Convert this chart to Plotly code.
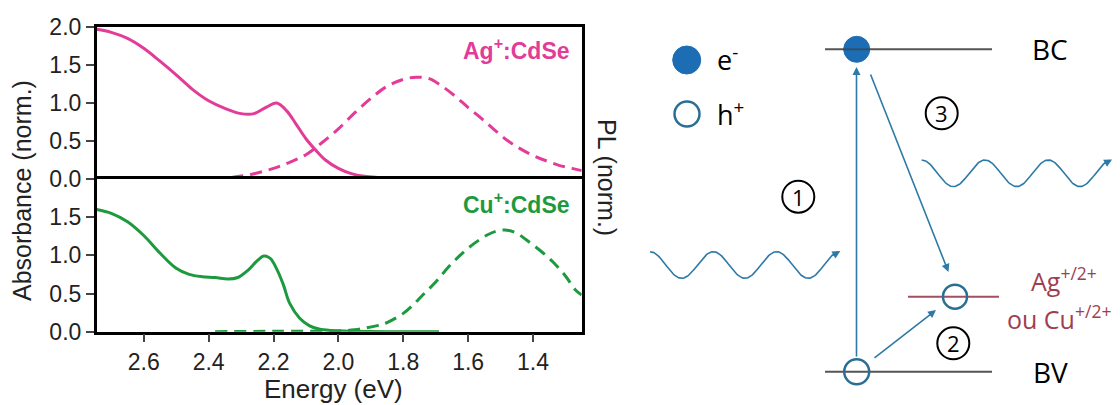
import numpy as np
import plotly.graph_objects as go

# window is 1120x405; page body has an 8px margin, so the figure is shifted by OFF
OFF = 8
W, H = 1120 - OFF, 405 - OFF

# ---------------- data ----------------
ag_abs_E = [2.745, 2.70, 2.65, 2.60, 2.55, 2.50, 2.45, 2.40, 2.35, 2.30, 2.26, 2.22, 2.19, 2.16,
            2.13, 2.10, 2.07, 2.04, 2.00, 1.96, 1.92, 1.88, 1.84, 1.80]
ag_abs_A = [1.97, 1.93, 1.85, 1.72, 1.55, 1.37, 1.18, 1.03, 0.93, 0.86, 0.86, 0.95, 1.00, 0.90,
            0.72, 0.53, 0.38, 0.25, 0.14, 0.07, 0.035, 0.02, 0.012, 0.01]

ag_pl_E = [2.33, 2.26, 2.20, 2.15, 2.10, 2.05, 2.00, 1.95, 1.90, 1.85, 1.80, 1.76, 1.72, 1.68,
           1.64, 1.60, 1.56, 1.52, 1.48, 1.44, 1.40, 1.36, 1.32, 1.28, 1.25]
ag_pl_I = [0.02, 0.07, 0.14, 0.22, 0.32, 0.48, 0.66, 0.87, 1.06, 1.22, 1.31, 1.34, 1.32, 1.22,
           1.09, 0.94, 0.80, 0.65, 0.51, 0.40, 0.31, 0.24, 0.18, 0.14, 0.11]

cu_abs_E = [2.745, 2.70, 2.65, 2.60, 2.55, 2.50, 2.46, 2.42, 2.38, 2.34, 2.31, 2.28, 2.25, 2.23,
            2.21, 2.19, 2.17, 2.15, 2.12, 2.09, 2.06, 2.02, 1.95, 1.85, 1.69]
cu_abs_A = [1.60, 1.55, 1.44, 1.26, 1.03, 0.83, 0.75, 0.72, 0.71, 0.69, 0.71, 0.80, 0.93, 0.99,
            0.96, 0.82, 0.62, 0.37, 0.18, 0.08, 0.035, 0.015, 0.005, 0.0, 0.0]

cu_pl_E = [2.38, 2.20, 2.00, 1.95, 1.92, 1.88, 1.85, 1.80, 1.77, 1.74, 1.70, 1.66, 1.62, 1.58,
           1.54, 1.51, 1.48, 1.45, 1.42, 1.38, 1.34, 1.30, 1.27, 1.25]
cu_pl_I = [0.0, 0.005, 0.01, 0.025, 0.045, 0.08, 0.12, 0.24, 0.35, 0.48, 0.65, 0.85, 1.02, 1.16,
           1.27, 1.32, 1.33, 1.29, 1.20, 1.07, 0.92, 0.73, 0.55, 0.48]

x_ticks = [2.6, 2.4, 2.2, 2.0, 1.8, 1.6, 1.4]
y_ticks_top = [0.0, 0.5, 1.0, 1.5, 2.0]
y_ticks_bot = [0.0, 0.5, 1.0, 1.5]

MAG = "#E23C98"
GRN = "#1E9A3E"
BLUE_LINE = "#2E7AA6"
BLUE_FILL = "#1D6DB4"
BLUE_RING = "#2A6E96"
LEVEL = "#555555"
DOPANT = "#A0505E"
DOPANT_TXT = "#A03E4E"

# ---------------- layout geometry (window pixels) ----------------
px_l, px_r = 96.7, 581.7
py_top, py_mid, py_bot = 27, 179, 331.7

def fx(p):
    return (p - OFF) / W

def fy(p):
    return 1 - (p - OFF) / H

fig = go.Figure()

dash = "12px,7px"
fig.add_trace(go.Scatter(x=ag_abs_E, y=ag_abs_A, mode="lines", line=dict(color=MAG, width=3, shape="spline"),
                         xaxis="x", yaxis="y", showlegend=False))
fig.add_trace(go.Scatter(x=ag_pl_E, y=ag_pl_I, mode="lines", line=dict(color=MAG, width=3, dash=dash, shape="spline"),
                         xaxis="x", yaxis="y", showlegend=False))
fig.add_trace(go.Scatter(x=cu_abs_E, y=cu_abs_A, mode="lines", line=dict(color=GRN, width=3, shape="spline"),
                         xaxis="x2", yaxis="y2", showlegend=False))
fig.add_trace(go.Scatter(x=cu_pl_E, y=cu_pl_I, mode="lines", line=dict(color=GRN, width=3, dash=dash, shape="spline"),
                         xaxis="x2", yaxis="y2", showlegend=False))

# ---------------- schematic elements (window-pixel coords on overlay axis) ----------------
wave_period, wave_amp = 63.3, 13.3
waves = [(650.0, 265.0), (921.7, 173.3)]  # start x, centre y
for x0, yc in waves:
    xs = np.linspace(x0, x0 + 2.96 * wave_period, 200)
    ys = yc - wave_amp * np.cos(2 * np.pi * (xs - x0) / wave_period)
    fig.add_trace(go.Scatter(x=xs, y=ys, mode="lines", line=dict(color=BLUE_LINE, width=1.6),
                             xaxis="x3", yaxis="y3", showlegend=False, hoverinfo="skip"))

shapes = []
shapes.append(dict(type="line", xref="x3", yref="y3", x0=825, x1=992, y0=49.3, y1=49.3,
                   line=dict(color=LEVEL, width=2)))
shapes.append(dict(type="line", xref="x3", yref="y3", x0=825, x1=992, y0=371.7, y1=371.7,
                   line=dict(color=LEVEL, width=2)))
shapes.append(dict(type="line", xref="x3", yref="y3", x0=908, x1=999, y0=296.7, y1=296.7,
                   line=dict(color=DOPANT, width=2)))

def circle(cx, cy, r, fill, line_color, lw):
    return dict(type="circle", xref="x3", yref="y3", x0=cx - r, x1=cx + r, y0=cy - r, y1=cy + r,
                fillcolor=fill, line=dict(color=line_color, width=lw))

shapes.append(circle(686.7, 60, 14, BLUE_FILL, BLUE_FILL, 1))
shapes.append(circle(687, 114, 12.5, "rgba(0,0,0,0)", BLUE_RING, 2.5))
shapes.append(circle(856.7, 49.3, 13, BLUE_FILL, BLUE_FILL, 1))
shapes.append(circle(856.7, 371.7, 12.5, "rgba(255,255,255,0)", BLUE_RING, 2.5))
shapes.append(circle(955, 296.7, 12, "rgba(255,255,255,0)", BLUE_RING, 2.5))
for cx, cy in [(798.3, 196.7), (953.3, 343.3), (941.7, 113.3)]:
    shapes.append(circle(cx, cy, 16, "rgba(0,0,0,0)", "black", 2))
shapes.append(dict(type="line", xref="x3", yref="y3", x0=843, x1=870, y0=49.3, y1=49.3,
                   line=dict(color="rgba(60,60,60,0.6)", width=2)))

annotations = []

def arrow(x_head, y_head, x_tail, y_tail, size=1.0):
    return dict(x=x_head, y=y_head, ax=x_tail, ay=y_tail, xref="x3", yref="y3", axref="x3", ayref="y3",
                showarrow=True, arrowhead=2, arrowsize=size, arrowwidth=1.6, arrowcolor=BLUE_LINE,
                standoff=0, startstandoff=0, text="")

annotations.append(arrow(856.5, 67, 856.5, 358))
annotations.append(arrow(948.5, 272, 870, 73))
annotations.append(arrow(936, 310, 873, 359))
for x0, yc in waves:
    xe = x0 + 2.96 * wave_period
    xb = xe - 6
    ye = yc - wave_amp * np.cos(2 * np.pi * (xe - x0) / wave_period)
    yb = yc - wave_amp * np.cos(2 * np.pi * (xb - x0) / wave_period)
    annotations.append(arrow(xe + 3, ye - 1, xb, yb))

SFONT = "Open Sans, Noto Sans, sans-serif"

def text3(x, y, t, size, color="black", xanchor="center"):
    return dict(x=x, y=y, xref="x3", yref="y3", text=t, showarrow=False, xanchor=xanchor, yanchor="middle",
                font=dict(family=SFONT, size=size, color=color))

annotations.append(text3(715, 58, "e<sup>-</sup>", 27, xanchor="left"))
annotations.append(text3(715, 113, "h<sup>+</sup>", 27, xanchor="left"))
annotations.append(text3(1050, 49, "BC", 28))
annotations.append(text3(1050, 372, "BV", 28))
annotations.append(text3(798.3, 196.7, "1", 22))
annotations.append(text3(953.3, 343.3, "2", 22))
annotations.append(text3(941.7, 113.3, "3", 22))
annotations.append(text3(1064, 279, "Ag<sup>+/2+</sup>", 25, DOPANT_TXT))
annotations.append(text3(1059, 317, "ou Cu<sup>+/2+</sup>", 25, DOPANT_TXT))

CFONT = "Liberation Sans, Arial, sans-serif"
annotations.append(dict(x=fx(572), y=fy(49), xref="paper", yref="paper", text="<b>Ag<sup>+</sup>:CdSe</b>",
                        showarrow=False, xanchor="right", yanchor="middle",
                        font=dict(family=CFONT, size=23, color=MAG)))
annotations.append(dict(x=fx(572), y=fy(203), xref="paper", yref="paper", text="<b>Cu<sup>+</sup>:CdSe</b>",
                        showarrow=False, xanchor="right", yanchor="middle",
                        font=dict(family=CFONT, size=23, color=GRN)))
annotations.append(dict(x=fx(22), y=fy(191), xref="paper", yref="paper", text="Absorbance (norm.)",
                        showarrow=False, textangle=-90, xanchor="center", yanchor="middle",
                        font=dict(family=CFONT, size=25, color="#222")))
annotations.append(dict(x=fx(607), y=fy(177), xref="paper", yref="paper", text="PL (norm.)",
                        showarrow=False, textangle=90, xanchor="center", yanchor="middle",
                        font=dict(family=CFONT, size=25, color="#222")))
annotations.append(dict(x=fx(333), y=fy(389), xref="paper", yref="paper", text="Energy (eV)",
                        showarrow=False, xanchor="center", yanchor="middle",
                        font=dict(family=CFONT, size=26, color="#222")))

axis_common = dict(showline=True, linecolor="black", linewidth=2.5, showgrid=False, automargin=False,
                   zeroline=False, tickfont=dict(family=CFONT, size=23, color="#222"))

fig.update_layout(
    template="none",
    width=W, height=H, margin=dict(l=0, r=0, t=0, b=0, pad=0), autosize=False,
    paper_bgcolor="white", plot_bgcolor="rgba(0,0,0,0)",
    xaxis=dict(domain=[fx(px_l), fx(px_r)], range=[2.745, 1.25], anchor="y", side="top", mirror=False,
               showticklabels=False, ticks="", **axis_common),
    yaxis=dict(domain=[fy(py_mid), fy(py_top)], range=[0, 2.0], anchor="x", tickvals=y_ticks_top,
               ticktext=[f"{v:.1f}" for v in y_ticks_top], ticks="outside", ticklen=8, tickwidth=2,
               mirror=True, **axis_common),
    xaxis2=dict(domain=[fx(px_l), fx(px_r)], range=[2.745, 1.25], anchor="y2", tickvals=x_ticks,
                ticktext=[f"{v:.1f}" for v in x_ticks], ticks="outside", ticklen=8, tickwidth=2,
                mirror=True, **axis_common),
    yaxis2=dict(domain=[fy(py_bot), fy(py_mid)], range=[0, 2.0], anchor="x2", tickvals=y_ticks_bot,
                ticktext=[f"{v:.1f}" for v in y_ticks_bot], ticks="outside", ticklen=8, tickwidth=2,
                mirror=True, **axis_common),
    xaxis3=dict(domain=[0, 1], range=[OFF, OFF + W], visible=False, anchor="y3", fixedrange=True,
                automargin=False),
    yaxis3=dict(domain=[0, 1], range=[OFF + H, OFF], visible=False, anchor="x3", fixedrange=True,
                automargin=False),
    shapes=shapes, annotations=annotations, showlegend=False,
)

fig.write_html("out.html")
